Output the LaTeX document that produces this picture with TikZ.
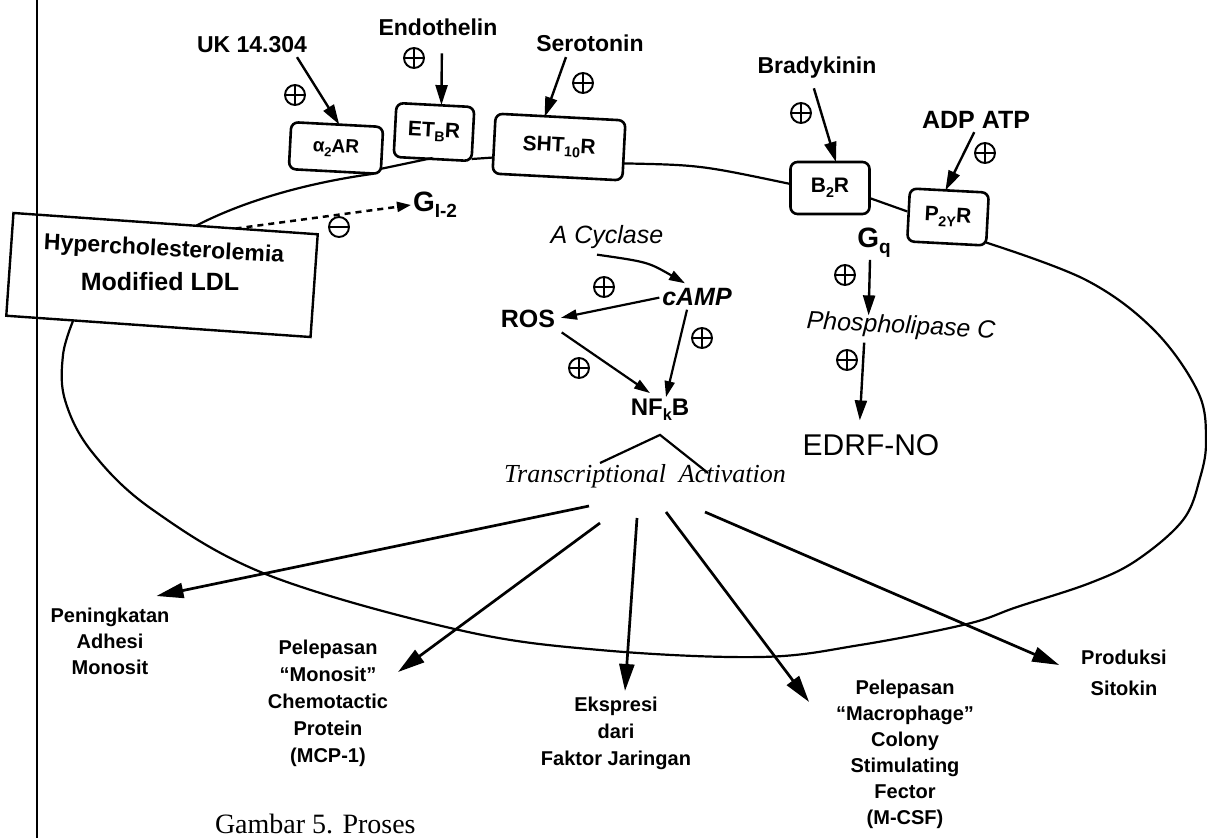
\documentclass[tikz,border=0pt]{standalone}
\usepackage{fontspec}
\usepackage{graphicx}
\setmainfont{Liberation Sans}
\newfontfamily\capfont{Liberation Serif}
\usetikzlibrary{arrows.meta,calc}
\newcommand{\fs}[1]{\fontsize{#1}{#1}\selectfont}
\newcommand{\lsub}[1]{\raisebox{-0.22em}{\scalebox{0.68}{#1}}}
\begin{document}
\begin{tikzpicture}[x=1pt,y=-1pt,
  every node/.style={inner sep=0pt, outer sep=0pt},
  lab/.style={font=\bfseries\fs{23}},
  low/.style={font=\bfseries\fontsize{20}{26}\selectfont, align=center},
  rec/.style={draw, line width=2.6pt, rounded corners=7pt, font=\bfseries\fs{21}},
  mem/.style={line width=2.2pt},
  arr/.style={line width=2.4pt, -{Triangle[length=20pt,width=12pt]}},
  sarr/.style={line width=2.2pt, -{Triangle[length=16pt,width=10pt]}},
  barr/.style={line width=2.7pt, -{Triangle[length=27pt,width=15pt]}},
  pmsign/.style={circle, draw, line width=1.9pt, minimum width=20pt, minimum height=20pt},
  pl/.style={pmsign, path picture={\draw[line width=1.9pt] (path picture bounding box.north) -- (path picture bounding box.south) (path picture bounding box.west) -- (path picture bounding box.east);}},
  mi/.style={pmsign, path picture={\draw[line width=1.9pt] (path picture bounding box.west) -- (path picture bounding box.east);}},
]
\fill[white] (0,0) rectangle (1207,838);
\useasboundingbox (0,0) rectangle (1207,838);
\draw[line width=2.5pt] (37,0) -- (37,838);

% ligands
\node[lab] (uk) at (252,45) {UK 14.304};
\node[lab] (endo) at (438,27) {Endothelin};
\node[lab] (sero) at (590,43) {Serotonin};
\node[lab] (brady) at (817,68) {Bradykinin};
\node[lab, font=\bfseries\fs{25}] (adp) at (976,120) {ADP ATP};

% receptors
\node[rec, minimum width=92pt, minimum height=47pt, rotate=-3, font=\bfseries\fs{19}] (a2ar) at (336,148) {α\lsub{2}AR};
\node[rec, minimum width=78pt, minimum height=54pt, rotate=-3] (etbr) at (434,132) {ET\lsub{B}R};
\node[rec, minimum width=130pt, minimum height=60pt, rotate=-3] (sht) at (559,147) {SHT\lsub{10}R};
\node[rec, minimum width=79pt, minimum height=52pt] (b2r) at (830,188) {B\lsub{2}R};
\node[rec, minimum width=79pt, minimum height=53pt, rotate=-3] (p2yr) at (948,217) {P\lsub{2Y}R};

\draw[arr] ([xshift=45pt,yshift=-4pt]uk.south) -- ([xshift=2pt]a2ar.north);
\draw[arr, shorten <=18pt] ([xshift=4pt]endo.south) -- ([xshift=6pt]etbr.north);
\draw[arr, shorten <=6pt] ([xshift=-22pt]sero.south) -- ([xshift=-16pt]sht.north);
\draw[arr, shorten <=10pt] ([xshift=-6pt]brady.south) -- ([xshift=6pt]b2r.north);
\draw[arr, shorten <=4pt] (adp.south) -- ([xshift=-4pt]p2yr.north);

\node[pl] (puk) at (295,95) {};
\node[pl] (pendo) at (414,58) {};
\node[pl] (psero) at (583,83) {};
\node[pl] (pbrady) at (801,113) {};
\node[pl] (padp) at (985,153) {};

% hypercholesterolemia box
\node[draw, line width=2.4pt, rotate=-4, minimum width=305pt, minimum height=103pt] (hypbox) at (162,275) {};
\node[rotate=-3, font=\bfseries\fs{23}] (hyp1) at (164,250) {Hypercholesterolemia};
\node[font=\bfseries\fs{25}] (hyp2) at (160,282) {Modified LDL};

% membrane
\coordinate (m0) at ($(hypbox.north west)!0.6!(hypbox.north east)$);
\coordinate (m1) at ($(hypbox.south west)!0.22!(hypbox.south east)$);
\coordinate (m2) at ($(p2yr.south east)+(0,-3)$);
\draw[mem] (m0) .. controls (240,203) and (300,184) .. ([xshift=-8pt]a2ar.south east);
\draw[mem] ($(a2ar.south east)+(0,-5)$) -- ($(etbr.south)+(0,-1)$);
\draw[mem] ($(etbr.south east)+(0,-2)$) -- ($(sht.south west)+(0,-16)$);
\draw[mem] ($(sht.south east)+(0,-17)$) .. controls (700,165) .. ($(b2r.south west)+(0,-30)$);
\draw[mem] ($(b2r.south east)+(0,-16)$) -- ($(p2yr.south west)+(0,-30)$);
\draw[mem] plot[smooth, tension=0.6] coordinates {(m2) (1086,280) (1154,330) (1198,392) (1206,440) (1200,478) (1183,520) (1137,560) (1090,583) (1017,607) (967,624) (860,645) (760,657) (600,650) (459,630) (268,575) (153,510) (92,452) (65,400) (63,355) (m1)};

% Gi-2
\node[font=\bfseries\fs{28}] (gi) at (435,205) {G\lsub{I-2}};
\coordinate (d0) at ($(hypbox.north west)!0.73!(hypbox.north east)$);
\draw[line width=2.5pt, dash pattern=on 6pt off 5pt, -{Triangle[length=14pt,width=10pt]}] (d0) -- ([xshift=-2pt]gi.west);
\node[mi] (mgi) at (339,227) {};

% inner pathway
\node[font=\itshape\fs{25}] (acyc) at (607,237) {A Cyclase};
\node[font=\bfseries\itshape\fs{25}] (camp) at (697,297) {cAMP};
\node[font=\bfseries\fs{25}] (ros) at (528,319) {ROS};
\node[font=\bfseries\fs{24}] (nfkb) at (660,410) {NF\lsub{k}B};
\coordinate (c0) at ([xshift=-10pt,yshift=-6pt]acyc.south);
\coordinate (c1) at ([xshift=-12pt,yshift=5pt]camp.north);
\draw[sarr] (c0) .. controls (648,262) .. (c1);
\node[pl] (pcy) at (604,287) {};
\draw[sarr, shorten <=3pt, shorten >=6pt] (camp.west) -- (ros.east);
\draw[sarr] ([xshift=-10pt,yshift=-4pt]camp.south) -- ([xshift=6pt,yshift=2pt]nfkb.north);
\node[pl] (pcamp) at (702,338) {};
\draw[sarr, shorten <=8pt] (ros.south east) -- ([xshift=-10pt,yshift=6pt]nfkb.north);
\node[pl] (pros) at (579,368) {};

\coordinate (apex) at ([yshift=-14pt]nfkb.south);
\node[font=\capfont\itshape\fs{26}] (trans) at (645,476) {Transcriptional\ \ Activation};
\coordinate (tl) at (600,463);
\coordinate (tr) at (708,473);
\draw[line width=2.2pt] (tl) -- (apex) -- (tr);

% Gq branch
\node[font=\bfseries\fs{28}] (gq) at (874,243) {G\lsub{q}};
\node[font=\itshape\fs{25}, rotate=-3] (plc) at (901,327) {Phospholipase C};
\node[font=\fs{30}] (edrf) at (871,445) {EDRF-NO};
\draw[arr] ([xshift=-4pt,yshift=-2pt]gq.south) -- ([xshift=-33pt]plc.north);
\node[pl] (pgq) at (845,275) {};
\draw[arr, shorten <=4pt, shorten >=14pt] ([xshift=-36pt]plc.south) -- ([xshift=-12pt]edrf.north);
\node[pl] (pplc) at (847,360) {};

% outcomes
\node[low, anchor=north] (pen) at (110,608) {Peningkatan\\Adhesi\\Monosit};
\node[low, font=\bfseries\fontsize{20}{27}\selectfont, anchor=north] (mcp) at (328,640) {Pelepasan\\“Monosit”\\Chemotactic\\Protein\\(MCP-1)};
\node[low, font=\bfseries\fontsize{20}{27}\selectfont, anchor=north] (eks) at (616,697) {Ekspresi\\dari\\Faktor Jaringan};
\node[low, anchor=north] (mcsf) at (905,680) {Pelepasan\\“Macrophage”\\Colony\\Stimulating\\Fector\\(M-CSF)};
\node[low, font=\bfseries\fontsize{20}{31}\selectfont, anchor=north] (prod) at (1124,650) {Produksi\\Sitokin};

\coordinate (s1) at (589,506);
\coordinate (s2) at (600,523);
\coordinate (s3) at (637,518);
\coordinate (s4) at (666,512);
\coordinate (s5) at (705,512);
\draw[barr] (s1) -- ([xshift=-13pt,yshift=12pt]pen.north east);
\draw[barr] (s2) -- ([xshift=10pt,yshift=-32pt]mcp.north east);
\draw[barr] (s3) -- ([xshift=9pt,yshift=6pt]eks.north);
\draw[barr] (s4) -- ([xshift=-27pt,yshift=-22pt]mcsf.north west);
\draw[barr] (s5) -- ([xshift=-22pt,yshift=-15pt]prod.north west);

\node[font=\capfont\fs{28}, anchor=base west] (cap) at (215,833) {Gambar 5. Proses};
\end{tikzpicture}
\end{document}
